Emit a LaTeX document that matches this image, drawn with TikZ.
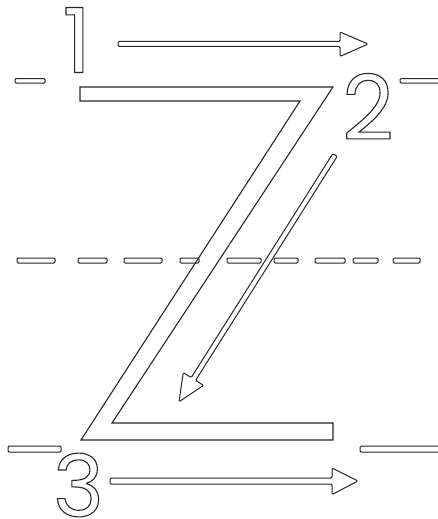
\documentclass[tikz,border=0pt]{standalone}
\usepackage{fontspec}
\setmainfont{Poppins}
\tikzset{
  zline/.style={draw=black!85, line width=1.1pt, line join=miter},
  hollow/.style={draw=black!85, line width=1.0pt, fill=white, rounded corners=1.2pt},
  digit/.style={inner sep=0pt, font=\fontsize{90}{90}\selectfont},
}
\newcommand{\outl}[1]{\special{pdf:literal q 1 Tr 1.1 w 0.15 G}#1\special{pdf:literal Q}}
\begin{document}
\begin{tikzpicture}[x=1pt,y=1pt]
\useasboundingbox (0,0) rectangle (438,-519);
\fill[white] (0,0) rectangle (438,-519);

% middle dashed guide line
\foreach \a/\b in {17/55, 78/107, 124/162, 180/199, 227/261, 274/298, 315/345, 353/378, 393/420}
  \draw[hollow] (\a,-258) rectangle (\b,-263);

% side dashes (top and bottom guide lines)
\draw[hollow] (15,-78.5) rectangle (45,-83);
\draw[hollow] (400,-78.5) rectangle (441,-83);
\draw[hollow] (8,-446) rectangle (61,-452);
\draw[hollow] (360,-446) rectangle (441,-452);

% the letter Z
\draw[zline] (80,-87) -- (333,-87) -- (112,-423) -- (333,-423) -- (333,-440)
  -- (81,-440) -- (300,-101) -- (80,-101) -- cycle;

% arrow 1
\draw[hollow] (118,-41.5) -- (340,-41.5) -- (340,-32) -- (368,-44) -- (340,-56.5)
  -- (340,-46.5) -- (118,-46.5) -- cycle;
% arrow 3
\draw[hollow] (110,-478) -- (332,-478) -- (332,-468) -- (358,-481) -- (332,-494.5)
  -- (332,-484) -- (110,-484) -- cycle;
% arrow 2 (diagonal)
\begin{scope}[shift={(335,-155)}, rotate=237.7]
  \draw[hollow] (0,2.6) -- (265,2.6) -- (265,12) -- (292,0) -- (265,-12)
    -- (265,-2.6) -- (0,-2.6) -- cycle;
\end{scope}

% stroke numbers
\node[digit] (n1) at (77,-40) {\outl{1}};
\node[digit] (n2) at (368,-106.5) {\outl{2}};
\node[digit, font=\fontsize{86}{86}\selectfont] (n3) at (78.5,-485) {\outl{3}};
\end{tikzpicture}
\end{document}
